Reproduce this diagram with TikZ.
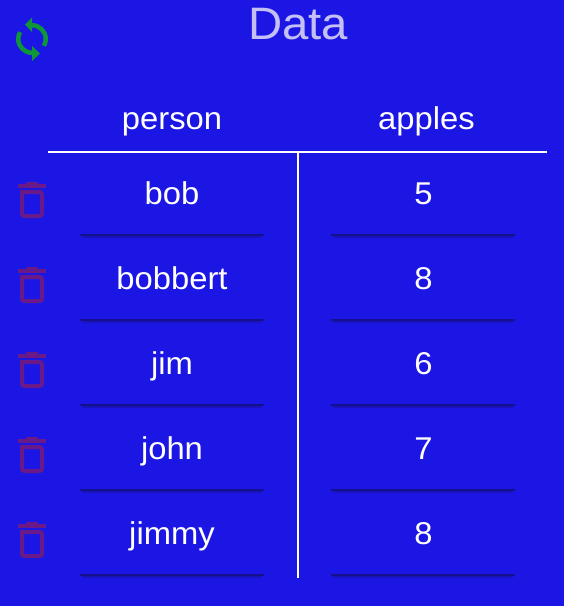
\documentclass[tikz,border=0pt]{standalone}
\usepackage{fontspec}
\setmainfont[FakeStretch=1.04]{Liberation Sans}
\definecolor{bgblue}{HTML}{1C16E4}
\definecolor{titlecol}{HTML}{C4C0F6}
\definecolor{trashcol}{HTML}{6A1A88}
\definecolor{greencol}{HTML}{0F9638}
\definecolor{rulecol}{HTML}{15108C}
\definecolor{shadecol}{HTML}{1913BC}
\tikzset{
  celltext/.style={text=white,font=\fontsize{31.5}{34}\selectfont,inner sep=0pt,anchor=base},
  headtext/.style={celltext},
  titletext/.style={text=titlecol,font=\fontsize{45.5}{50}\selectfont,inner sep=0pt,anchor=base},
  tablerule/.style={draw=white,line width=2pt},
  cellrule/.style={draw=rulecol,line width=2pt},
  cellshade/.style={draw=shadecol,line width=2pt},
  trashline/.style={draw=trashcol,line width=4pt},
  greenarc/.style={draw=greencol,line width=4.5pt}
}
\begin{document}
\begin{tikzpicture}[x=1pt,y=-1pt]
\fill[bgblue] (0,0) rectangle (564,606);
\useasboundingbox (0,0) rectangle (564,606);
\node[titletext] (title) at (298,39.5) {Data};
% refresh icon
\draw[greenarc] (32,25.25) arc[start angle=-90,end angle=30,radius=13.75];
\fill[greencol] (25,24.5) -- (32,17.5) -- (32,32) -- cycle;
\draw[greenarc] (32,52.75) arc[start angle=90,end angle=210,radius=13.75];
\fill[greencol] (40,53.5) -- (32,46) -- (32,61) -- cycle;
% header
\node[headtext] (hperson) at (172,129.5) {person};
\node[headtext] (happles) at (426.5,129.5) {apples};
\coordinate (hl) at (48,152);
\coordinate (hr) at (547,152);
\coordinate (vt) at (298,152);
\coordinate (vb) at (298,578);
\draw[tablerule] (hl) -- (hr);
\draw[tablerule] (vt) -- (vb);
% rows
\foreach \i/\name/\val in {0/bob/5,1/bobbert/8,2/jim/6,3/john/7,4/jimmy/8}{
  \pgfmathsetmacro{\d}{85*\i}
  \begin{scope}[yshift=-\d pt]
    \node[celltext] (name\i) at (172,204.7) {\name};
    \node[celltext] (val\i) at (423.5,204.7) {\val};
    \coordinate (la\i) at (80,235);
    \coordinate (lb\i) at (264,235);
    \coordinate (lc\i) at (331,235);
    \coordinate (ld\i) at (515,235);
    \draw[cellshade] (82,237) -- (262,237);
    \draw[cellshade] (333,237) -- (513,237);
    \draw[cellrule] (la\i) -- (lb\i);
    \draw[cellrule] (lc\i) -- (ld\i);
    % trash icon
    \fill[trashcol] (18,184) rectangle (46,188);
    \fill[trashcol] (26,182) rectangle (38,184);
    \draw[trashline] (22,192) [rounded corners=2.5pt] -- (22,216) -- (42,216) -- (42,192) [sharp corners] -- cycle;
  \end{scope}
}
\end{tikzpicture}
\end{document}
